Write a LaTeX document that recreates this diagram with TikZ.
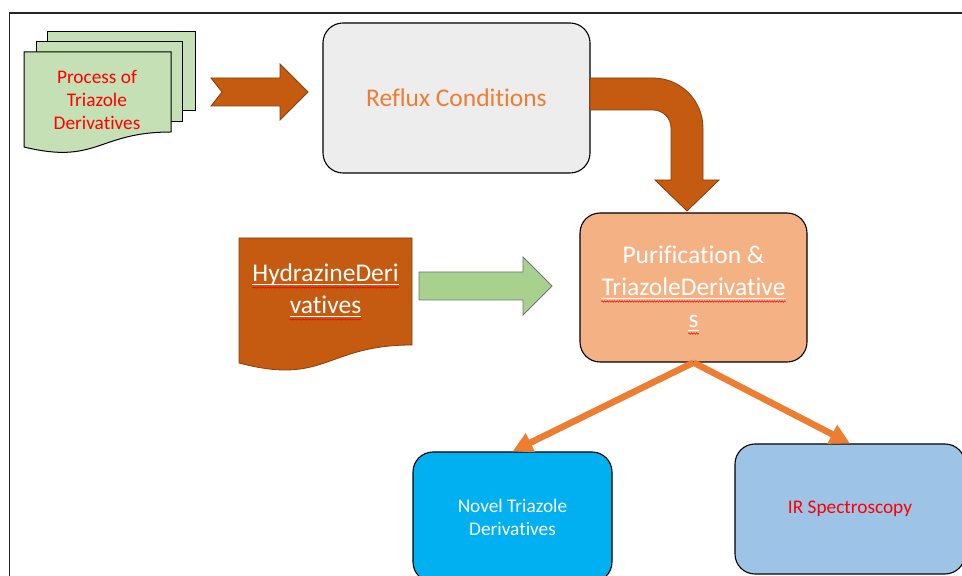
\documentclass[tikz,border=0pt]{standalone}
\usepackage{fontspec}
\setmainfont[Ligatures=NoCommon]{Carlito}
\usetikzlibrary{arrows.meta, positioning, decorations.pathmorphing}

\definecolor{rust}{HTML}{C55A11}
\definecolor{rustdk}{HTML}{8A3E0C}
\definecolor{acc}{HTML}{ED7D31}
\definecolor{docg}{HTML}{C5E0B4}
\definecolor{leaf}{HTML}{A9D18E}
\definecolor{lightg}{HTML}{EDEDED}
\definecolor{peach}{HTML}{F4B183}
\definecolor{sky}{HTML}{00B0F0}
\definecolor{pale}{HTML}{9DC3E6}

\newcommand{\bigf}{\fontsize{25.5}{33}\selectfont}
\newcommand{\smallf}{\fontsize{19.3}{23}\selectfont}

\begin{document}
\begin{tikzpicture}[x=1pt, y=1pt,
  box/.style={draw=black, line width=1.1pt, rounded corners=20pt,
              align=center, inner sep=0pt},
  blk/.style={line width=0.8pt, line join=miter},
  ln/.style={inner sep=0pt, anchor=base, text=white, font=\bigf},
  ul/.style={white, line width=1.1pt},
  spell/.style={red, line width=0.6pt, decorate,
                decoration={snake, amplitude=0.7pt, segment length=2.5pt}},
  link/.style={-{Triangle[width=20pt, length=20pt]}, line width=6.5pt, acc}
]
\useasboundingbox (0,0) rectangle (962,576);
\clip (0,0) rectangle (962,576);

% Frame
\draw[line width=1.3pt, black!85] (9.5,0) -- (9.5,563) -- (962,563);

% Stack of documents
\filldraw[fill=docg, draw=black, line width=1pt] (47,544) rectangle (195,465);
\filldraw[fill=docg, draw=black, line width=1pt] (36,534) rectangle (182,454);
\filldraw[fill=docg, draw=black, line width=1pt]
  (24,524) -- (171,524) -- (171,444)
  .. controls (97.5,444) and (97.5,411) .. (24,429) -- cycle;
\node[font=\smallf, text=red, align=center] (proc) at (97,476)
  {Process of\\Triazole\\Derivatives};

% Notched arrow
\draw[blk, fill=rust, draw=rustdk] (211,498) -- (280,498) -- (280,512)
  -- (308,484) -- (280,456) -- (280,470) -- (211,470) -- (222,484) -- cycle;

% Boxes
\node[box, fill=lightg, minimum width=267pt, minimum height=150pt,
      font=\bigf, text=acc] (reflux) at (456.5,478) {Reflux Conditions};
\node[box, fill=peach, minimum width=227pt, minimum height=149pt]
  (puri) at (693.5,288.5) {};
\node[box, fill=sky, minimum width=199pt, minimum height=130pt,
      font=\smallf, text=white] (novel) at (512.5,59)
  {Novel Triazole\\Derivatives};
\node[box, fill=pale, minimum width=230pt, minimum height=130pt,
      font=\smallf, text=red] (ir) at (850,67)
  {\raisebox{-4pt}{IR Spectroscopy}};

% Bent arrow down to purification
\draw[blk, fill=rust, draw=rustdk] (590,498) -- (653,498)
  arc[start angle=90, end angle=0, radius=50] -- (703,396) -- (719,396)
  -- (687,365) -- (655,396) -- (671,396) -- (671,448)
  arc[start angle=0, end angle=90, radius=18] -- (590,466) -- cycle;

% Hydrazine document
\filldraw[fill=rust, draw=rustdk, line width=0.8pt]
  (239,338) -- (412,338) -- (412,231)
  .. controls (325.5,231) and (325.5,190) .. (239,213) -- cycle;
\node[ln] (hydA) at (325.5,294) {HydrazineDeri};
\node[ln] (hydB) at (325.5,262) {vatives};

% Green arrow
\draw[blk, fill=leaf, draw=black!55] (419,304) -- (523,304) -- (523,319)
  -- (552,290) -- (523,261) -- (523,276) -- (419,276) -- cycle;

% Purification text
\node[ln] (purA) at (693.5,312) {Purification \&};
\node[ln] (purB) at (693.5,280) {TriazoleDerivative};
\node[ln] (purC) at (693.5,248) {s};

% Underlines and spelling marks
\foreach \n in {hydA,hydB,purB,purC} {
  \draw[ul] ([yshift=-2.5pt]\n.base west) -- ([yshift=-2.5pt]\n.base east);
  \draw[spell] ([yshift=-5.5pt]\n.base west) -- ([yshift=-5.5pt]\n.base east);
}

% Output arrows
\draw[link] (puri.south) -- (novel.north);
\draw[link] (puri.south) -- (ir.north);
\end{tikzpicture}
\end{document}
